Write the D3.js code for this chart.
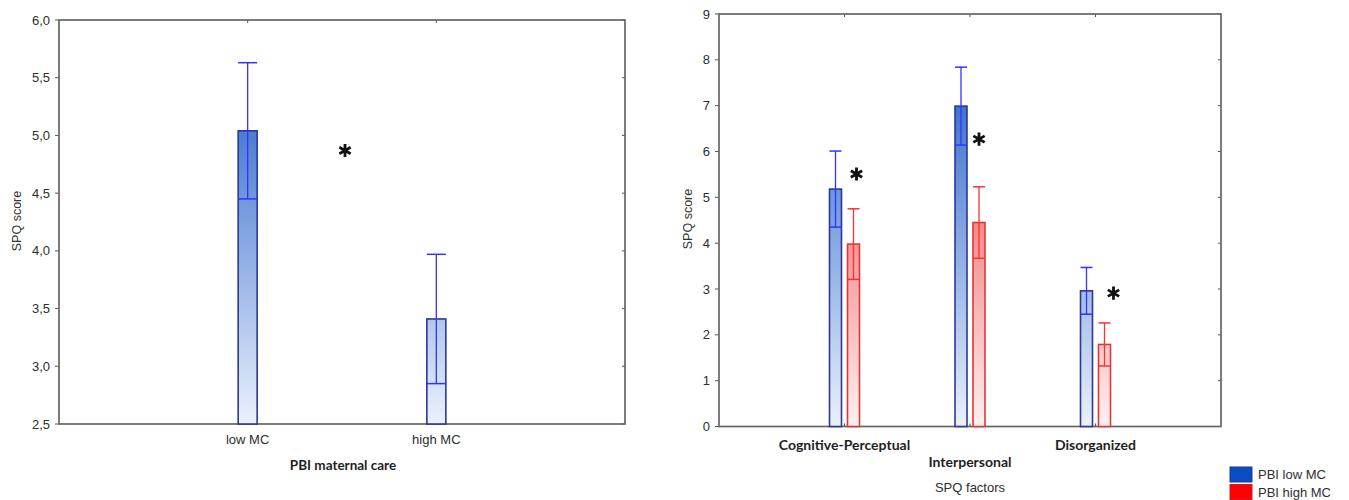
<!DOCTYPE html>
<html>
<head>
<meta charset="utf-8">
<script src="https://cdn.jsdelivr.net/npm/d3@7"></script>
<style>
  body { margin: 0; background: #fff; }
  svg { display: block; }
  .tick-label { font-family: "Liberation Sans", Arial, sans-serif; font-size: 13px; fill: #2e2e2e; }
  .axis-title { font-family: "Liberation Sans", Arial, sans-serif; font-size: 12.5px; fill: #333; }
  .cat-bold { font-family: Lato, "Open Sans", sans-serif; font-size: 14px; font-weight: bold; fill: #1e1e1e; }
</style>
</head>
<body>
<svg id="chart" width="1349" height="500"></svg>
<script>
// left panel: SPQ total by maternal care group
const careGroups = ["low MC", "high MC"];
const careMeans = [5.04, 3.41];
const careErrors = [0.59, 0.56];
const careTicks = [2.5, 3.0, 3.5, 4.0, 4.5, 5.0, 5.5, 6.0];
const careStar = 4.87;

// right panel: SPQ factors by group
const factors = ["Cognitive-Perceptual", "Interpersonal", "Disorganized"];
const groups = ["PBI low MC", "PBI high MC"];
const lowMeans = [5.18, 6.99, 2.96];
const lowErrors = [0.83, 0.85, 0.51];
const highMeans = [3.98, 4.45, 1.79];
const highErrors = [0.77, 0.78, 0.47];
const factorTicks = [0, 1, 2, 3, 4, 5, 6, 7, 8, 9];
const factorStars = [5.51, 6.27, 2.91];
const starShift = [12, 9, 18];

const svg = d3.select('#chart'),
  defs = svg.append('defs'),
  comma = d => d3.format('.1f')(d).replace('.', ',');

function gradient(id, y1, y2, top, bottom) {
  const g = defs.append('linearGradient')
    .attr('id', id)
    .attr('gradientUnits', 'userSpaceOnUse')
    .attr('x1', 0).attr('x2', 0)
    .attr('y1', y1).attr('y2', y2);
  g.append('stop').attr('offset', 0).attr('stop-color', top);
  g.append('stop').attr('offset', 1).attr('stop-color', bottom);
}

function frame(x0, x1, y0, y1, xScale, yScale, ticks, fmt) {
  const g = svg.append('g');
  g.selectAll('.yt').data(ticks).join('line')
    .attr('x1', x0 - 4).attr('x2', x0)
    .attr('y1', d => yScale(d)).attr('y2', d => yScale(d))
    .attr('stroke', '#555');
  g.selectAll('.yr').data(ticks).join('line')
    .attr('x1', x1 - 3).attr('x2', x1)
    .attr('y1', d => yScale(d)).attr('y2', d => yScale(d))
    .attr('stroke', '#555');
  g.selectAll('.xt').data(xScale.domain()).join('line')
    .attr('x1', d => xScale(d)).attr('x2', d => xScale(d))
    .attr('y1', y1).attr('y2', y1 - 3)
    .attr('stroke', '#555');
  g.selectAll('.xtop').data(xScale.domain()).join('line')
    .attr('x1', d => xScale(d)).attr('x2', d => xScale(d))
    .attr('y1', y0).attr('y2', y0 + 3)
    .attr('stroke', '#555');
  g.append('rect')
    .attr('x', x0).attr('y', y0)
    .attr('width', x1 - x0).attr('height', y1 - y0)
    .attr('fill', 'none')
    .attr('stroke', '#666')
    .attr('stroke-width', 1.7);
  g.selectAll('.yl').data(ticks).join('text')
    .attr('class', 'tick-label')
    .attr('x', x0 - 9)
    .attr('y', d => yScale(d))
    .attr('text-anchor', 'end')
    .attr('dominant-baseline', 'central')
    .text(fmt);
}

function barWithError(g, x, w, mean, err, yScale, fill, stroke, errColor) {
  const y = yScale(mean), base = yScale.range()[0];
  g.append('rect')
    .attr('x', x).attr('y', y)
    .attr('width', w).attr('height', base - y)
    .attr('fill', fill)
    .attr('stroke', stroke)
    .attr('stroke-width', 1.6);
  const cx = x + w / 2, hi = yScale(mean + err), lo = yScale(mean - err);
  g.append('line')
    .attr('x1', cx).attr('x2', cx).attr('y1', hi).attr('y2', lo)
    .attr('stroke', errColor).attr('stroke-width', 1.3);
  [hi, lo].forEach(v => g.append('line')
    .attr('x1', x).attr('x2', x + w).attr('y1', v).attr('y2', v)
    .attr('stroke', errColor).attr('stroke-width', 1.5));
}

function star(x, y) {
  svg.append('path')
    .attr('d', d3.symbol(d3.symbolAsterisk, 120)())
    .attr('transform', `translate(${x},${y})`)
    .attr('stroke', '#111')
    .attr('stroke-width', 2.8);
}

// ---- left panel ----
const L = { x0: 59, x1: 625, y0: 20, y1: 424 };
const xCare = d3.scalePoint().domain(careGroups).range([L.x0, L.x1]).padding(1);
const yCare = d3.scaleLinear().domain([2.5, 6]).range([L.y1, L.y0]);
gradient('blueL', L.y0, L.y1, '#1050c4', '#eaf1fb');

frame(L.x0, L.x1, L.y0, L.y1, xCare, yCare, careTicks, comma);

const careBars = svg.append('g');
careGroups.forEach((c, i) => {
  barWithError(careBars, xCare(c) - 9.5, 19, careMeans[i], careErrors[i], yCare,
    'url(#blueL)', '#2b389a', '#3232ff');
});

svg.selectAll('.care-label').data(careGroups).join('text')
  .attr('class', 'tick-label')
  .attr('x', d => xCare(d))
  .attr('y', 439)
  .attr('text-anchor', 'middle')
  .attr('dominant-baseline', 'central')
  .text(d => d);

svg.append('text')
  .attr('class', 'cat-bold')
  .attr('x', (L.x0 + L.x1) / 2 + 1)
  .attr('y', 465)
  .attr('text-anchor', 'middle')
  .attr('dominant-baseline', 'central')
  .style('font-size', '13.5px')
  .text('PBI maternal care');

svg.append('text')
  .attr('class', 'axis-title')
  .attr('transform', 'translate(17,221) rotate(-90)')
  .attr('text-anchor', 'middle')
  .attr('dominant-baseline', 'central')
  .text('SPQ score');

star((xCare(careGroups[0]) + xCare(careGroups[1])) / 2 + 3, yCare(careStar));

// ---- right panel ----
const R = { x0: 719, x1: 1221, y0: 14, y1: 426.5 };
const xFac = d3.scalePoint().domain(factors).range([R.x0, R.x1]).padding(1);
const xSub = d3.scaleBand().domain(groups).range([-15, 15]).paddingInner(1 / 3);
const yFac = d3.scaleLinear().domain([0, 9]).range([R.y1, R.y0]);
gradient('blueR', R.y0, R.y1, '#1050c4', '#eaf1fb');
gradient('redR', R.y0, R.y1, '#eb2020', '#fff0f0');

frame(R.x0, R.x1, R.y0, R.y1, xFac, yFac, factorTicks, d => d);

const facBars = svg.append('g');
factors.forEach((f, i) => {
  barWithError(facBars, xFac(f) + xSub(groups[0]), xSub.bandwidth(), lowMeans[i], lowErrors[i], yFac,
    'url(#blueR)', '#2b389a', '#3232ff');
  barWithError(facBars, xFac(f) + xSub(groups[1]), xSub.bandwidth(), highMeans[i], highErrors[i], yFac,
    'url(#redR)', '#d83a3a', '#ff3030');
  star(xFac(f) + starShift[i], yFac(factorStars[i]));
});

svg.selectAll('.fac-label').data(factors).join('text')
  .attr('class', 'cat-bold')
  .attr('x', d => xFac(d))
  .attr('y', (d, i) => i === 1 ? 461 : 444)
  .attr('text-anchor', 'middle')
  .attr('dominant-baseline', 'central')
  .text(d => d);

svg.append('text')
  .attr('class', 'tick-label')
  .attr('x', (R.x0 + R.x1) / 2)
  .attr('y', 487)
  .attr('text-anchor', 'middle')
  .attr('dominant-baseline', 'central')
  .text('SPQ factors');

svg.append('text')
  .attr('class', 'axis-title')
  .attr('transform', 'translate(688,219) rotate(-90)')
  .attr('text-anchor', 'middle')
  .attr('dominant-baseline', 'central')
  .text('SPQ score');

// legend
const legend = svg.append('g').attr('transform', 'translate(1230,467)');
const legendColors = ['#0a4cc2', '#ff0000'];
legend.selectAll('rect').data(groups).join('rect')
  .attr('x', 0).attr('y', (d, i) => i * 17.5)
  .attr('width', 22).attr('height', 15)
  .attr('fill', (d, i) => legendColors[i])
  .attr('stroke', (d, i) => i ? '#c82020' : '#1a3a90');
legend.selectAll('text').data(groups).join('text')
  .attr('class', 'tick-label')
  .attr('x', 28).attr('y', (d, i) => i * 17.5 + 7.5)
  .attr('dominant-baseline', 'central')
  .text(d => d);
</script>
</body>
</html>
